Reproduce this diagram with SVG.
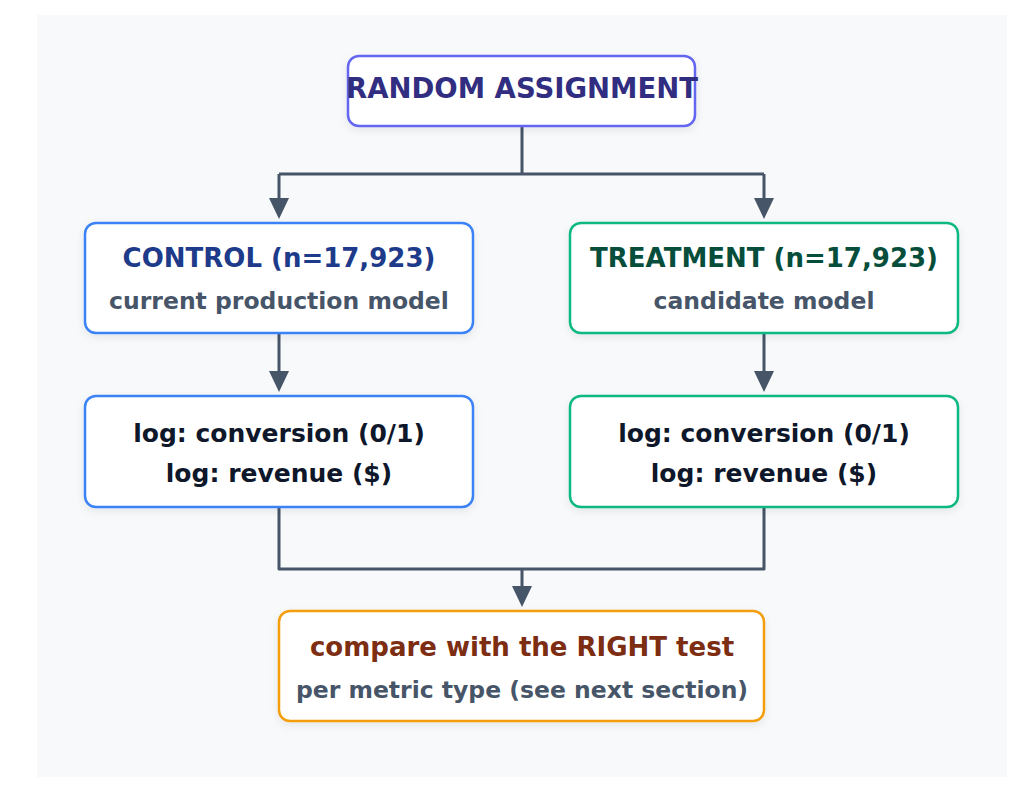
<svg xmlns="http://www.w3.org/2000/svg" width="1024" height="792" viewBox="0 0 1024 792">
<defs>
<style>
.box{fill:#ffffff;stroke-width:2.5;filter:url(#sh)}
.t{font-family:"DejaVu Sans",sans-serif;font-weight:bold;text-anchor:middle}
.h{font-size:26px}
.s{font-size:23.5px;fill:#475569}
.l{font-size:25px;fill:#0f172a}
.c{fill:none;stroke:#475569;stroke-width:3;stroke-linejoin:round}
</style>
<filter id="sh" x="-10%" y="-20%" width="120%" height="150%">
<feDropShadow dx="0" dy="3" stdDeviation="4" flood-color="#0f172a" flood-opacity="0.08"/>
</filter>
</defs>
<rect x="37" y="15" width="970" height="762" fill="#f8f9fb"/>
<g id="connectors">
<path class="c" d="M522,126 V174 M279,174 H764"/>
<path class="c" d="M279,174 V200"/>
<path class="c" d="M764,174 V200"/>
<path class="c" d="M279,333 V373"/>
<path class="c" d="M764,333 V373"/>
<path class="c" d="M279,507 V569 H764 V507 M522,569 V588"/>
<path d="M269,198 L289,198 L279,219 Z M754,198 L774,198 L764,219 Z M269,371 L289,371 L279,392 Z M754,371 L774,371 L764,392 Z M512,586 L532,586 L522,607 Z" fill="#475569"/>
</g>
<g id="random">
<rect class="box" x="348" y="56" width="347" height="70" rx="11" stroke="#6366f1"/>
<text class="t" x="522" y="98" fill="#312e81" style="font-size:27.5px">RANDOM ASSIGNMENT</text>
</g>
<g id="control">
<rect class="box" x="85" y="223" width="388" height="110" rx="11" stroke="#3b82f6"/>
<text class="t h" x="279" y="267" fill="#1e3a8a">CONTROL (n=17,923)</text>
<text class="t s" x="279" y="309">current production model</text>
</g>
<g id="treatment">
<rect class="box" x="570" y="223" width="388" height="110" rx="11" stroke="#10b981"/>
<text class="t h" x="764" y="267" fill="#064e3b">TREATMENT (n=17,923)</text>
<text class="t s" x="764" y="309">candidate model</text>
</g>
<g id="log-control">
<rect class="box" x="85" y="396" width="388" height="111" rx="11" stroke="#3b82f6"/>
<text class="t l" x="279" y="442">log: conversion (0/1)</text>
<text class="t l" x="279" y="482">log: revenue ($)</text>
</g>
<g id="log-treatment">
<rect class="box" x="570" y="396" width="388" height="111" rx="11" stroke="#10b981"/>
<text class="t l" x="764" y="442">log: conversion (0/1)</text>
<text class="t l" x="764" y="482">log: revenue ($)</text>
</g>
<g id="compare">
<rect class="box" x="279" y="611" width="485" height="110" rx="11" stroke="#f59e0b"/>
<text class="t h" x="522" y="656" fill="#7c2d12">compare with the RIGHT test</text>
<text class="t s" x="522" y="698">per metric type (see next section)</text>
</g>
</svg>
